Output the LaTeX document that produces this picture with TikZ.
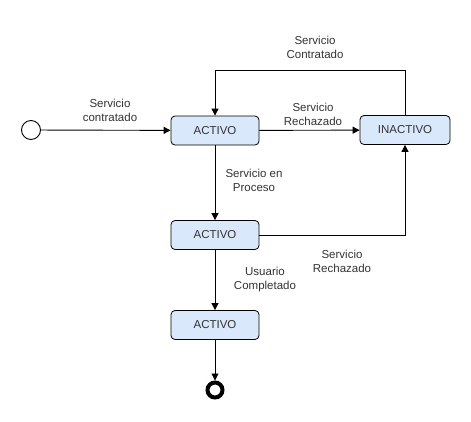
\documentclass[tikz,border=0pt]{standalone}
\usepackage{fontspec}
\setmainfont{Liberation Sans}
\usetikzlibrary{arrows.meta,positioning,calc}
\definecolor{StateFill}{HTML}{DAE8FC}
\definecolor{EdgeText}{HTML}{333333}
\tikzset{
  state/.style={rounded corners=4pt, draw=black, fill=StateFill, line width=0.8pt, minimum width=88pt, minimum height=29pt, inner sep=2pt, align=center, font=\fontsize{11.5}{13}\selectfont, text=EdgeText},
  lbl/.style={align=center, font=\fontsize{11.5}{14}\selectfont, text=EdgeText},
  arr/.style={-{Triangle[length=7pt,width=7pt]}, draw=black, line width=0.9pt}
}
\begin{document}
\begin{tikzpicture}[x=1pt,y=-1pt]
\useasboundingbox (0,0) rectangle (471,421);
\node[circle, draw=black, line width=0.9pt, fill=white, minimum size=19pt, inner sep=0pt] (start) at (31,130) {};
\node[state] (a1) at (215,130.5) {ACTIVO};
\node[state, minimum width=90pt] (in) at (405,130) {INACTIVO};
\node[state] (a2) at (215,235) {ACTIVO};
\node[state] (a3) at (215,325) {ACTIVO};
\node[circle, draw=black, line width=4pt, fill=white, minimum size=15pt, inner sep=0pt] (stop) at (215,390) {};
\coordinate (top) at (405,70);
% transitions
\draw[arr] (start) -- (a1);
\draw[arr] (a1) -- (in);
\draw[arr] (in.north) -- (top) -| (a1.north);
\draw[arr] (a1) -- (a2);
\draw[arr] (a2.east) -| (in.south);
\draw[arr] (a2) -- (a3);
\draw[arr] (a3) -- (stop);
% labels
\node[lbl] (l1) at (110,110) {Servicio\\contratado};
\node[lbl] (l2) at (315,47) {Servicio\\Contratado};
\node[lbl] (l3) at (313,114) {Servicio\\Rechazado};
\node[lbl] (l4) at (254,180) {Servicio en\\Proceso};
\node[lbl] (l5) at (342,261) {Servicio\\Rechazado};
\node[lbl] (l6) at (265,280) {Usuario\\Completado};
\end{tikzpicture}
\end{document}
